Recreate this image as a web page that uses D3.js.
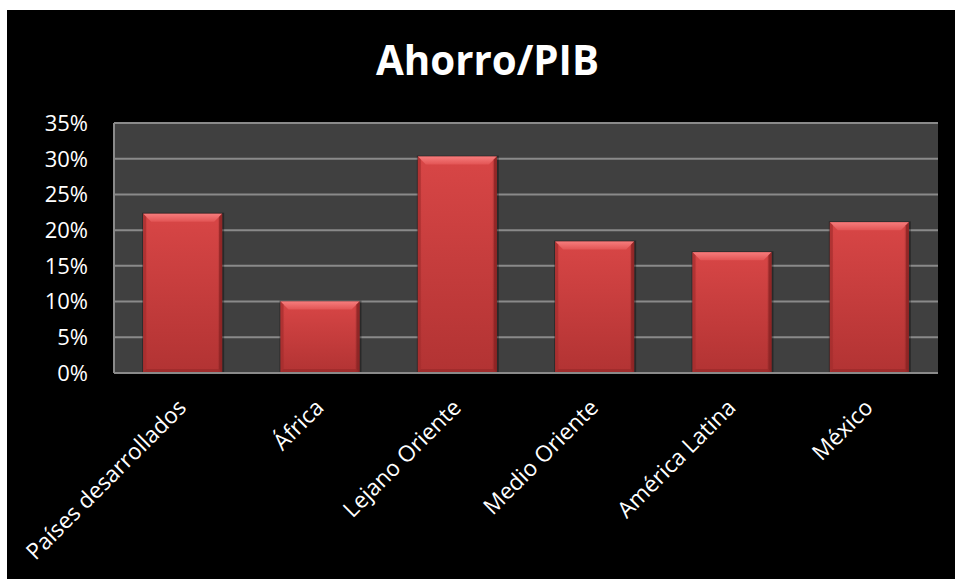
<!DOCTYPE html>
<html>
<head>
<meta charset="utf-8">
<script src="https://cdn.jsdelivr.net/npm/d3@7"></script>
<style>
  html, body { margin: 0; padding: 0; background: #ffffff; }
  svg { display: block; }
</style>
</head>
<body>
<svg id="chart" width="955" height="579"></svg>
<script>
// Ahorro como porcentaje del PIB por región
const categories = ["Países desarrollados", "África", "Lejano Oriente", "Medio Oriente", "América Latina", "México"];
const values = [0.223, 0.100, 0.303, 0.184, 0.169, 0.211];
const yTicks = [0, 0.05, 0.10, 0.15, 0.20, 0.25, 0.30, 0.35];
const title = "Ahorro/PIB";

const svg = d3.select("#chart");
const W = 955, H = 579;
const plot = { left: 114, right: 938, top: 123, bottom: 373 };

// black chart frame
svg.append("rect").attr("x", 7).attr("y", 10).attr("width", W - 7).attr("height", H - 10).attr("fill", "#000");

const x = d3.scaleBand().domain(categories).range([plot.left, plot.right]).paddingInner(0.425).paddingOuter(0.2125);
const y = d3.scaleLinear().domain([0, 0.35]).range([plot.bottom, plot.top]);

// plot background
svg.append("rect")
  .attr("x", plot.left).attr("y", plot.top)
  .attr("width", plot.right - plot.left).attr("height", plot.bottom - plot.top)
  .attr("fill", "#404040");

// gridlines
svg.append("g").selectAll("line").data(yTicks).join("line")
  .attr("x1", plot.left).attr("x2", plot.right)
  .attr("y1", d => y(d)).attr("y2", d => y(d))
  .attr("stroke", "#8a8a8a").attr("stroke-width", 2);
svg.append("line")
  .attr("x1", plot.left).attr("x2", plot.left)
  .attr("y1", plot.top).attr("y2", plot.bottom)
  .attr("stroke", "#8a8a8a").attr("stroke-width", 2);

// gradients for the bevelled bars
const defs = svg.append("defs");
const gMain = defs.append("linearGradient").attr("id", "barMain").attr("x1", 0).attr("y1", 0).attr("x2", 0).attr("y2", 1);
gMain.append("stop").attr("offset", "0%").attr("stop-color", "#d84646");
gMain.append("stop").attr("offset", "100%").attr("stop-color", "#b23333");
const gTop = defs.append("linearGradient").attr("id", "barTop").attr("x1", 0).attr("y1", 0).attr("x2", 0).attr("y2", 1);
gTop.append("stop").attr("offset", "0%").attr("stop-color", "#f67c7c");
gTop.append("stop").attr("offset", "100%").attr("stop-color", "#e25454");
const gSide = defs.append("linearGradient").attr("id", "barSide").attr("x1", 0).attr("y1", 0).attr("x2", 1).attr("y2", 0);
gSide.append("stop").attr("offset", "0%").attr("stop-color", "#000").attr("stop-opacity", 0.05);
gSide.append("stop").attr("offset", "6%").attr("stop-color", "#000").attr("stop-opacity", 0);
gSide.append("stop").attr("offset", "94%").attr("stop-color", "#000").attr("stop-opacity", 0);
gSide.append("stop").attr("offset", "100%").attr("stop-color", "#000").attr("stop-opacity", 0.3);

const bars = svg.append("g").selectAll("g").data(categories).join("g");
bars.each(function (c, i) {
  const g = d3.select(this);
  const x0 = x(c), x1 = x(c) + x.bandwidth();
  const y0 = y(values[i]), y1 = y(0);
  const b = 8, s = 3, bb = 4;
  // soft shadow
  g.append("rect").attr("x", x0 - 1).attr("y", y0 - 1).attr("width", x1 - x0 + 3).attr("height", y1 - y0 + 1)
    .attr("fill", "#000").attr("opacity", 0.35);
  g.append("rect").attr("x", x0).attr("y", y0).attr("width", x1 - x0).attr("height", y1 - y0).attr("fill", "url(#barMain)");
  g.append("rect").attr("x", x0).attr("y", y0).attr("width", x1 - x0).attr("height", y1 - y0).attr("fill", "url(#barSide)");
  // top bevel
  g.append("polygon")
    .attr("points", [[x0, y0], [x1, y0], [x1 - b, y0 + b], [x0 + b, y0 + b]].map(p => p.join(",")).join(" "))
    .attr("fill", "url(#barTop)");
  // right edge
  g.append("polygon")
    .attr("points", [[x1, y0], [x1, y1], [x1 - s, y1 - bb], [x1 - s, y0 + s]].map(p => p.join(",")).join(" "))
    .attr("fill", "#8e2424").attr("opacity", 0.8);
  // left edge
  g.append("polygon")
    .attr("points", [[x0, y0], [x0 + s, y0 + s], [x0 + s, y1 - bb], [x0, y1]].map(p => p.join(",")).join(" "))
    .attr("fill", "#a52e2e").attr("opacity", 0.7);
  // bottom edge
  g.append("polygon")
    .attr("points", [[x0, y1], [x0 + s, y1 - bb], [x1 - s, y1 - bb], [x1, y1]].map(p => p.join(",")).join(" "))
    .attr("fill", "#9a2a2a").attr("opacity", 0.7);
});

// baseline
svg.append("line")
  .attr("x1", plot.left).attr("x2", plot.right)
  .attr("y1", y(0)).attr("y2", y(0))
  .attr("stroke", "#8a8a8a").attr("stroke-width", 2);

// y tick labels
svg.append("g").selectAll("text").data(yTicks).join("text")
  .attr("x", 88).attr("y", d => y(d)).attr("dy", "0.36em")
  .attr("text-anchor", "end")
  .attr("font-family", "'Open Sans', sans-serif").attr("font-size", 22)
  .attr("fill", "#fff")
  .text(d3.format(".0%"));

// category labels, rotated
svg.append("g").selectAll("text").data(categories).join("text")
  .attr("transform", d => `translate(${x(d) + x.bandwidth() / 2 + 5},${409}) rotate(-45)`)
  .attr("text-anchor", "end")
  .attr("font-family", "'Open Sans', sans-serif").attr("font-size", 22.5)
  .attr("fill", "#fff")
  .text(d => d);

// title
svg.append("text")
  .attr("x", 487.5).attr("y", 75)
  .attr("text-anchor", "middle")
  .attr("font-family", "'Open Sans', sans-serif").attr("font-weight", "bold").attr("font-size", 42)
  .attr("textLength", 223).attr("lengthAdjust", "spacingAndGlyphs")
  .attr("fill", "#fff")
  .text(title);
</script>
</body>
</html>
